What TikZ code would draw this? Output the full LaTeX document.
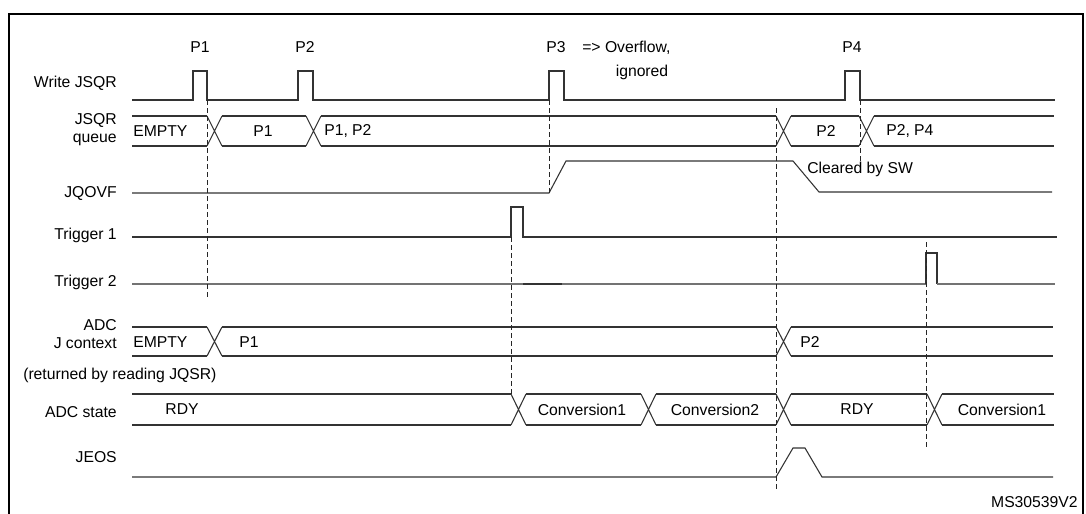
\documentclass[tikz,border=0pt]{standalone}
\usepackage{fontspec}
\setmainfont{Liberation Sans}
\usetikzlibrary{
  calc,       % 坐标计算
  positioning % 节点相对定位
}
\tikzset{
  wave/.style={
    line width=0.8pt,
    color=black!80
  },
  weak wave/.style={
    line width=0.8pt,
    color=black!55
  },
  guide/.style={
    line width=0.6pt,
    color=black!85,
    dash pattern=on 3.5pt off 2.5pt
  },
  frame line/.style={
    line width=1.8pt,
    color=black
  },
  sig label/.style={
    anchor=east,
    inner sep=0pt,
    align=right,
    font=\fontsize{11.8}{13.5}\selectfont
  },
  val label/.style={
    inner sep=0pt,
    font=\fontsize{11.8}{13.5}\selectfont
  }
}

\begin{document}
\begin{tikzpicture}[x=0.75pt, y=-0.75pt] % 整体思路：以像素为单位（y 向下），逐行画出各信号的时序波形，再加上竖直虚线标出对应时刻
  \useasboundingbox (0,0) rectangle (1086,514); % 固定画布大小，与原图一致

  % 外框（上、左、右三边）
  \draw[frame line] (9,514) -- (9,14) -- (1083,14) -- (1083,514); % 底边被裁掉，只画三边

  % 信号名称（右对齐）
  \node[sig label] (wrlab)  at (117,83)  {Write JSQR};       % 写 JSQR
  \node[sig label] (qlab)   at (117,130) {JSQR\\queue};      % JSQR 队列
  \node[sig label] (ovflab) at (117,193) {JQOVF};            % 溢出标志
  \node[sig label] (t1lab)  at (117,235) {Trigger 1};        % 触发 1
  \node[sig label] (t2lab)  at (117,282) {Trigger 2};        % 触发 2
  \node[sig label] (ctxlab) at (117,334) {ADC\\J context};   % ADC 注入上下文
  \node[val label, anchor=west] (retlab) at (23,375) {(returned by reading JQSR)}; % 说明文字
  \node[sig label] (stlab)  at (117,412) {ADC state};        % ADC 状态
  \node[sig label] (eoslab) at (117,457) {JEOS};             % 注入转换结束

  % Write JSQR：四个写脉冲
  \draw[wave] (132,100) -- (193,100) -- (193,71) -- (207,71) -- (207,100)
    -- (298,100) -- (298,71) -- (313,71) -- (313,100)
    -- (549,100) -- (549,71) -- (564,71) -- (564,100)
    -- (845,100) -- (845,71) -- (860,71) -- (860,100) -- (1055,100); % 脉冲 P1~P4
  \node[val label] (p1) at (200,47) {P1}; % 脉冲标注
  \node[val label] (p2) at (305,47) {P2};
  \node[val label] (p3) at (556,47) {P3};
  \node[val label] (p4) at (852,47) {P4};
  \node[val label, anchor=west] (ovtxt) at (582,48) {=> Overflow,}; % P3 溢出说明
  \node[val label] (igtxt) at (642,72) {ignored};

  % JSQR queue：总线形式
  \foreach \a/\b in {132/207, 222/306, 321/776, 791/859, 874/1054} {
    \draw[wave] (\a,116) -- (\b,116) (\a,146) -- (\b,146); % 上下两条边
  }
  \foreach \c in {207, 306, 776, 859} {
    \draw[wave] (\c,116) -- (\c+15,146) (\c,146) -- (\c+15,116); % 交叉 X
  }
  \node[val label, anchor=west] (qv0) at (133,131) {EMPTY};
  \node[val label] (qv1) at (263,131) {P1};
  \node[val label, anchor=west] (qv2) at (324,131) {P1, P2};
  \node[val label] (qv3) at (826,131) {P2};
  \node[val label, anchor=west] (qv4) at (886,131) {P2, P4};

  % JQOVF：P3 时置位，软件清零
  \draw[wave] (132,193) -- (549,193) -- (566,161) -- (793,161) -- (819,192) -- (1052,192); % 溢出标志波形
  \node[val label, anchor=west] (clr) at (807,169) {Cleared by SW};

  % Trigger 1 / Trigger 2
  \draw[wave] (132,237) -- (511,237) -- (511,207) -- (523,207) -- (523,237) -- (1057,237); % 触发 1 脉冲
  \draw[weak wave] (132,284) -- (523,284) (562,284) -- (926,284); % 触发 2 低电平（浅色）
  \draw[wave] (523,284) -- (562,284); % 一小段深色
  \draw[wave] (926,284) -- (926,253) -- (937,253) -- (937,284); % 触发 2 脉冲
  \draw[weak wave] (937,284) -- (1055,284);

  % ADC J context：总线形式
  \foreach \a/\b in {132/207, 222/776, 791/1053} {
    \draw[wave] (\a,327) -- (\b,327) (\a,356) -- (\b,356);
  }
  \foreach \c in {207, 776} {
    \draw[wave] (\c,327) -- (\c+15,356) (\c,356) -- (\c+15,327);
  }
  \node[val label, anchor=west] (cv0) at (133,342) {EMPTY};
  \node[val label] (cv1) at (249,342) {P1};
  \node[val label, anchor=west] (cv2) at (800,342) {P2};

  % ADC state：总线形式
  \foreach \a/\b in {132/511, 526/641, 656/776, 791/927, 942/1054} {
    \draw[wave] (\a,394) -- (\b,394) (\a,425) -- (\b,425);
  }
  \foreach \c in {511, 641, 776, 927} {
    \draw[wave] (\c,394) -- (\c+15,425) (\c,425) -- (\c+15,394);
  }
  \node[val label] (sv0) at (182,409) {RDY};
  \node[val label] (sv1) at (582,410) {Conversion1};
  \node[val label] (sv2) at (715,410) {Conversion2};
  \node[val label] (sv3) at (857,409) {RDY};
  \node[val label] (sv4) at (1002,410) {Conversion1};

  % JEOS：一个短脉冲
  \draw[wave] (132,477) -- (776,477) -- (793,448) -- (805,448) -- (822,477) -- (1053,477); % 转换结束脉冲

  % 竖直虚线（对应时刻）
  \draw[guide] (207,100) -- (207,297); % P1 写入
  \draw[guide] (549,100) -- (549,193); % P3 溢出
  \draw[guide] (860,100) -- (860,162); % P4 写入
  \draw[guide] (511,237) -- (511,394); % 触发 1
  \draw[guide] (926,242) -- (926,448); % 触发 2
  \draw[guide] (776,108) -- (776,490); % 转换结束

  % 图号
  \node[val label, anchor=east] (code) at (1078,502) {MS30539V2};
\end{tikzpicture}
\end{document}
